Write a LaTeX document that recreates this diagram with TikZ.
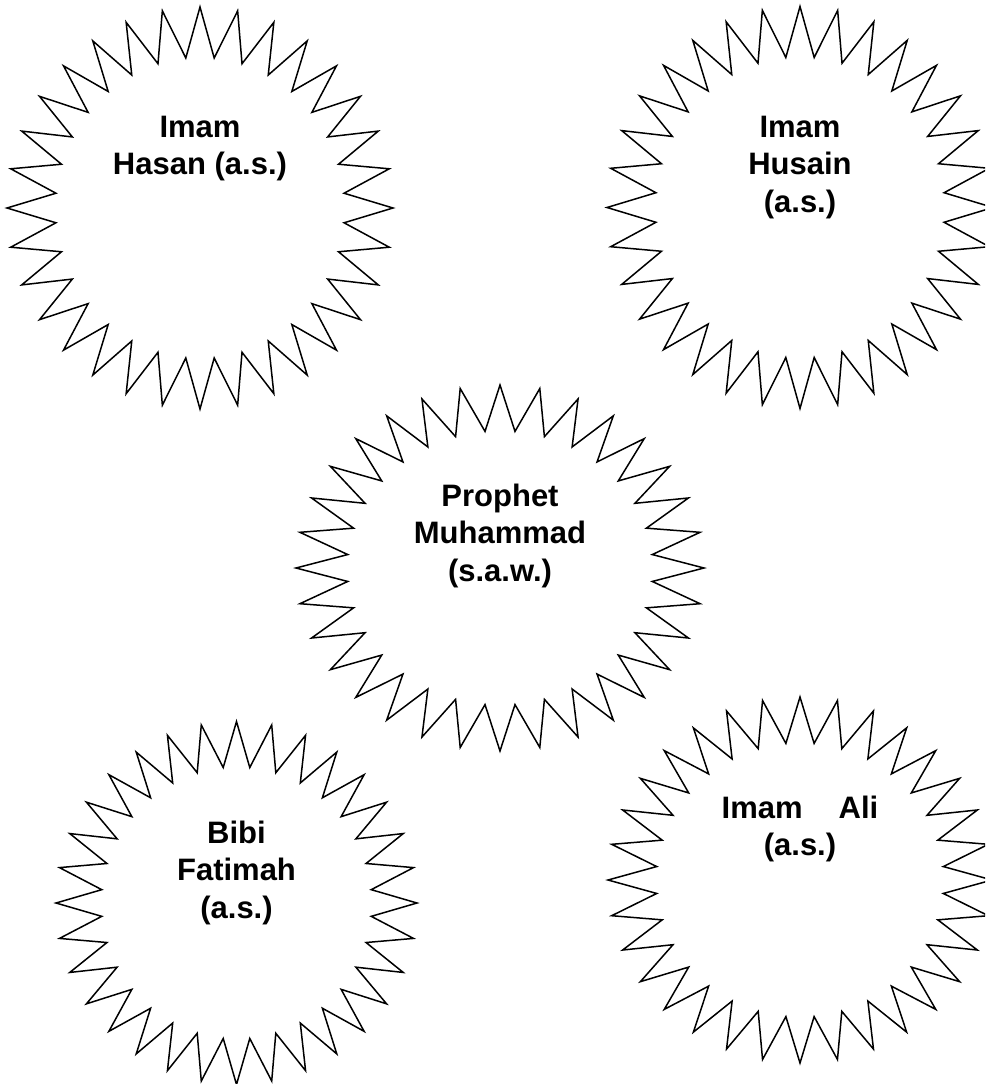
\documentclass[tikz,border=0pt]{standalone}
\usepackage{fontspec}
\setmainfont{Liberation Sans}
\tikzset{
  starline/.style={draw=black, line width=1.5pt, line join=miter},
  lbl/.style={font=\fontsize{31}{37.5}\selectfont\bfseries, align=center, inner sep=0pt, anchor=base}
}
\newcommand\drawburst[4]{%
  \draw[starline] plot[samples at={0,...,63}, variable=\k]
    ({#1+#3*(1-0.25*mod(\k,2))*cos(90+5.625*\k)},
     {#2+#4*(1-0.25*mod(\k,2))*sin(90+5.625*\k)}) -- cycle;}
\begin{document}
\begin{tikzpicture}[x=1pt,y=-1pt]
\useasboundingbox (0,0) rectangle (985,1084);
\fill[white] (0,0) rectangle (985,1084);
\clip (0,0) rectangle (985,1084);
\drawburst{200}{208}{193}{201}
\drawburst{800}{207.5}{193}{201}
\drawburst{500}{568}{204}{183}
\drawburst{236.5}{903}{180.5}{181.5}
\drawburst{800}{880}{192}{183}
% base anchor = baseline of the last line
\node[lbl] (hasan) at (200,174.5) {Imam\\Hasan (a.s.)};
\node[lbl] (husain) at (800,212) {Imam\\Husain\\(a.s.)};
\node[lbl] (prophet) at (500,581) {Prophet\\Muhammad\\(s.a.w.)};
\node[lbl] (fatimah) at (236.5,918) {Bibi\\Fatimah\\(a.s.)};
\node[lbl] (ali) at (800,855.5) {Imam\hspace{36pt}Ali\\(a.s.)};
\end{tikzpicture}
\end{document}
